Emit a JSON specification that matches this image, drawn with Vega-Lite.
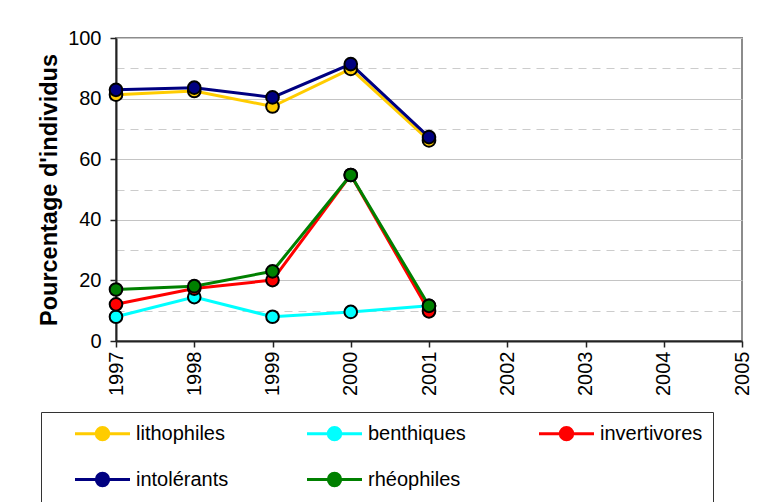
{
  "$schema": "https://vega.github.io/schema/vega-lite/v6.json",
  "autosize": {"type": "none"},
  "width": 626,
  "height": 303,
  "padding": {"left": 116, "top": 38, "right": 18, "bottom": 161},
  "background": "white",
  "config": {
    "font": "Liberation Sans",
    "view": {"stroke": "#8c8c8c", "strokeWidth": 2}
  },
  "data": {
    "values": [
      {"year": 1997, "series": "lithophiles", "value": 81.3},
      {"year": 1998, "series": "lithophiles", "value": 82.5},
      {"year": 1999, "series": "lithophiles", "value": 77.4},
      {"year": 2000, "series": "lithophiles", "value": 89.8},
      {"year": 2001, "series": "lithophiles", "value": 66.2},
      {"year": 1997, "series": "benthiques", "value": 8.0},
      {"year": 1998, "series": "benthiques", "value": 14.5},
      {"year": 1999, "series": "benthiques", "value": 8.0},
      {"year": 2000, "series": "benthiques", "value": 9.6},
      {"year": 2001, "series": "benthiques", "value": 11.6},
      {"year": 1997, "series": "invertivores", "value": 12.1},
      {"year": 1998, "series": "invertivores", "value": 17.3},
      {"year": 1999, "series": "invertivores", "value": 20.1},
      {"year": 2000, "series": "invertivores", "value": 54.8},
      {"year": 2001, "series": "invertivores", "value": 9.8},
      {"year": 1997, "series": "intolérants", "value": 82.9},
      {"year": 1998, "series": "intolérants", "value": 83.6},
      {"year": 1999, "series": "intolérants", "value": 80.4},
      {"year": 2000, "series": "intolérants", "value": 91.4},
      {"year": 2001, "series": "intolérants", "value": 67.3},
      {"year": 1997, "series": "rhéophiles", "value": 17.0},
      {"year": 1998, "series": "rhéophiles", "value": 18.1},
      {"year": 1999, "series": "rhéophiles", "value": 23.0},
      {"year": 2000, "series": "rhéophiles", "value": 54.8},
      {"year": 2001, "series": "rhéophiles", "value": 11.6}
    ]
  },
  "encoding": {
    "x": {
      "field": "year",
      "type": "quantitative",
      "scale": {"domain": [1997, 2005], "nice": false, "zero": false},
      "axis": {
        "title": null,
        "values": [1997, 1998, 1999, 2000, 2001, 2002, 2003, 2004, 2005],
        "format": "d",
        "labelAngle": 270,
        "labelFontSize": 20,
        "labelColor": "black",
        "labelPadding": 4,
        "grid": false,
        "domainColor": "#222",
        "domainWidth": 2,
        "tickColor": "#222",
        "tickWidth": 1.5,
        "tickSize": 6,
        "labelFlush": false,
        "labelOverlap": false
      }
    },
    "y": {
      "field": "value",
      "type": "quantitative",
      "scale": {"domain": [0, 100], "nice": false},
      "axis": {
        "title": "Pourcentage d'individus",
        "titleFontSize": 23.5,
        "titleFontWeight": "bold",
        "titleColor": "black",
        "titlePadding": 6,
        "values": [0, 10, 20, 30, 40, 50, 60, 70, 80, 90, 100],
        "labelExpr": "datum.value % 20 == 0 ? datum.label : ''",
        "labelFontSize": 20,
        "labelColor": "black",
        "labelPadding": 9,
        "tickSize": 6,
        "tickColor": "#222",
        "tickWidth": 1.5,
        "tickOpacity": {"condition": {"test": "datum.value % 20 == 0", "value": 1}, "value": 0},
        "domainColor": "#222",
        "domainWidth": 2,
        "grid": true,
        "gridColor": {"condition": {"test": "datum.value % 20 == 0", "value": "#c4c4c4"}, "value": "#cccccc"},
        "gridDash": {"condition": {"test": "datum.value % 20 == 10", "value": [8, 6]}, "value": []},
        "gridWidth": 1.2
      }
    },
    "color": {
      "field": "series",
      "type": "nominal",
      "scale": {
        "domain": ["lithophiles", "benthiques", "invertivores", "intolérants", "rhéophiles"],
        "range": ["#FFCC00", "#00FFFF", "#FF0000", "#000080", "#008000"]
      },
      "legend": {
        "title": null,
        "orient": "none",
        "legendX": -75,
        "legendY": 374,
        "columns": 3,
        "direction": "horizontal",
        "gridAlign": "all",
        "columnPadding": 44,
        "rowPadding": 21,
        "padding": 10,
        "strokeColor": "#333",
        "labelFontSize": 20,
        "labelColor": "black",
        "labelLimit": 300,
        "symbolType": "M-2.75,0L-0.62,0M0.62,0L2.75,0M-0.62,0A0.62,0.62,0,1,1,0.62,0A0.62,0.62,0,1,1,-0.62,0Z",
        "symbolSize": 400,
        "symbolStrokeWidth": 3,
        "symbolOffset": 40,
        "labelOffset": 22,
        "encode": {
          "symbols": {
            "update": {
              "fill": {"scale": "color", "field": "value"},
              "stroke": {"scale": "color", "field": "value"},
              "fillOpacity": {"value": 1},
              "opacity": {"value": 1}
            }
          }
        }
      }
    }
  },
  "layer": [
    {
      "mark": {"type": "line", "strokeWidth": 3}
    },
    {
      "mark": {"type": "point", "filled": true, "size": 160, "stroke": "black", "strokeWidth": 2, "opacity": 1}
    }
  ]
}
